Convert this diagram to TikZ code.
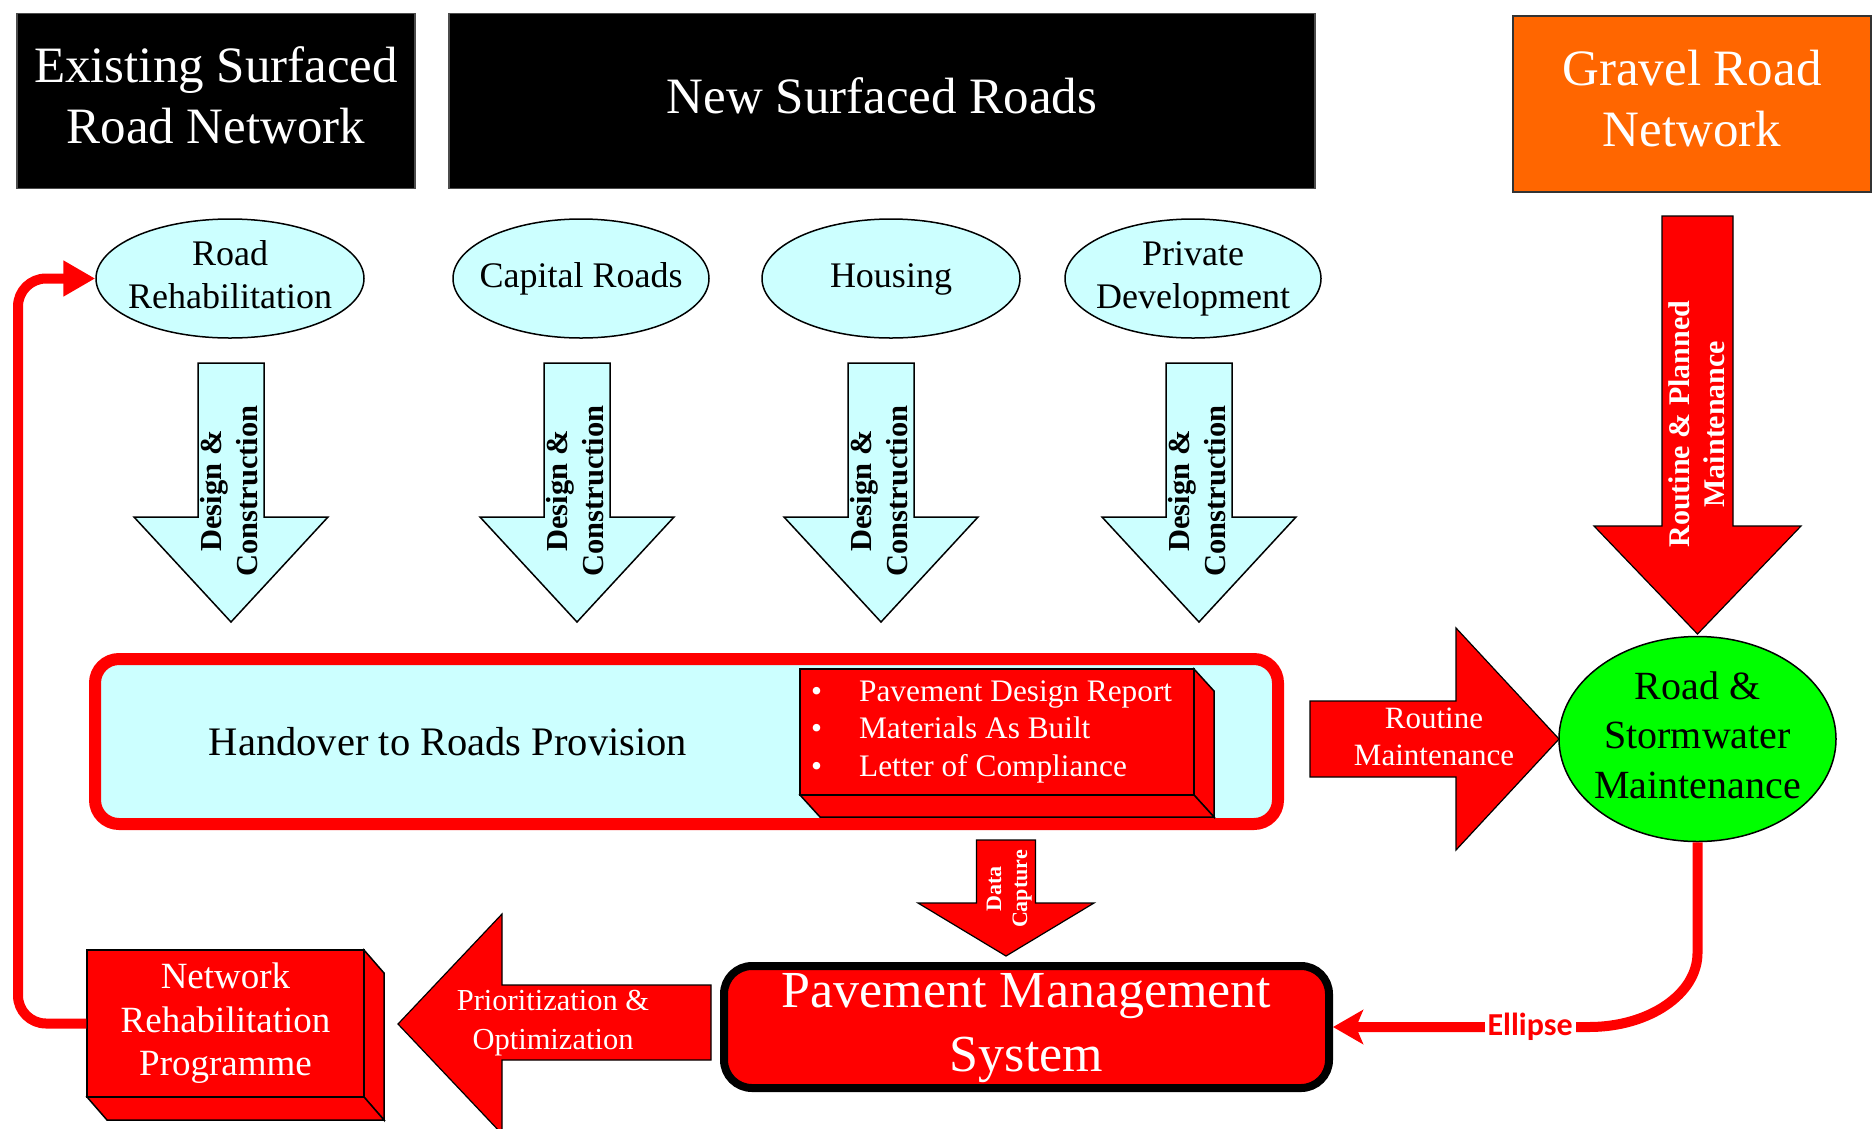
\documentclass[tikz,border=0pt]{standalone}
\usepackage{fontspec}
\setmainfont{Liberation Serif}
\newfontfamily\lblfont{Carlito}
\usetikzlibrary{arrows.meta,shapes.geometric}
\definecolor{lcyan}{HTML}{CCFFFF}
\definecolor{pred}{HTML}{FF0000}
\definecolor{pgreen}{HTML}{00FF00}
\definecolor{porange}{HTML}{FF6600}
\newcommand{\mlt}[1]{\begin{tabular}[t]{@{}c@{}}#1\end{tabular}}
\newcommand{\fsz}[2]{\fontsize{#1}{#2}\selectfont}
\begin{document}
\begin{tikzpicture}[x=1pt,y=-1pt,
  titlebox/.style={rectangle, fill=black, draw=black!70, line width=1.5pt, inner sep=0pt, text=white, font=\fsz{51}{61}},
  srcell/.style={ellipse, fill=lcyan, draw=black, line width=1.5pt, inner xsep=-30pt, inner ysep=-4pt, minimum width=256pt, minimum height=119pt, font=\fsz{36}{43}},
  dcarrow/.style={fill=lcyan, draw=black, line width=1.5pt},
  redarrow/.style={fill=pred, draw=black, line width=1.2pt},
  dctext/.style={rotate=90, inner sep=0pt, font=\bfseries\fsz{30.5}{36}},
  boxface/.style={fill=pred, draw=black, line width=1.5pt},
  redline/.style={draw=pred, line width=10pt},
  whitetext/.style={text=white, inner sep=0pt}
]
\fill[white] (0,0) rectangle (1873,1128);
\useasboundingbox (0,0) rectangle (1873,1128);

% top boxes
\node[titlebox, minimum width=398pt, minimum height=175pt] (esrn) at (216,101) {\mlt{Existing Surfaced\\Road Network}};
\node[titlebox, minimum width=866pt, minimum height=175pt] (nsr) at (882,101) {\mlt{New Surfaced Roads}};
\node[titlebox, fill=porange, draw=black!80, minimum width=358pt, minimum height=176pt] (grn) at (1692,104) {\mlt{Gravel Road\\Network}};

% source ellipses
\node[srcell, minimum width=268pt] (rr) at (230,278.5) {\mlt{Road\\Rehabilitation}};
\node[srcell] (cr) at (581,278.5) {\mlt{Capital Roads}};
\node[srcell, minimum width=258pt] (hs) at (891,278.5) {\mlt{Housing}};
\node[srcell] (pd) at (1193,278.5) {\mlt{Private\\Development}};

% design & construction arrows
\foreach \cx/\nm in {231/a,577/b,881/c,1199/d}{
  \draw[dcarrow] (\cx-33,363) -- (\cx+33,363) -- (\cx+33,517) -- (\cx+97,517) -- (\cx,622) -- (\cx-97,517) -- (\cx-33,517) -- cycle;
  \node[dctext] (dc\nm) at (\cx+1.5,491) {\mlt{Design \&\\Construction}};
}

% gravel maintenance arrow
\draw[redarrow] (1662,216) -- (1733,216) -- (1733,526) -- (1801,526) -- (1697.5,634) -- (1594,526) -- (1662,526) -- cycle;
\node[dctext, text=white, font=\bfseries\fsz{30}{35.5}] (rpm) at (1700,424) {\mlt{Routine \& Planned\\Maintenance}};

% handover box
\node[rectangle, rounded corners=24pt, draw=pred, line width=12pt, fill=lcyan, minimum width=1183pt, minimum height=165pt, inner sep=0pt] (hrp) at (686.5,741.5) {};
\node[inner sep=0pt, font=\fsz{40.5}{46}] (hrpt) at (448,745.8) {\mlt{Handover to Roads Provision}};

% bullet box (3D)
\draw[boxface] (1194,669) -- (1214,691) -- (1214,817) -- (1194,795) -- cycle;
\draw[boxface] (800,795) -- (1194,795) -- (1214,817) -- (820,817) -- cycle;
\node[boxface, rectangle, minimum width=394pt, minimum height=126pt, inner sep=0pt] (pdr) at (997,732) {};
\node[whitetext, anchor=base west, font=\fsz{31.3}{37.5}] (pdrt) at (811,701) {\begin{tabular}[t]{@{}l@{\hspace{37pt}}l@{}}\textbullet & Pavement Design Report\\ \textbullet & Materials As Built\\ \textbullet & Letter of Compliance\end{tabular}};

% routine maintenance arrow
\draw[redarrow] (1310,701) -- (1456,701) -- (1456,628) -- (1559,739) -- (1456,850) -- (1456,777) -- (1310,777) -- cycle;
\node[whitetext, font=\fsz{31}{37}] (rmt) at (1434,740) {\mlt{Routine\\Maintenance}};

% road & stormwater maintenance
\node[ellipse, fill=pgreen, draw=black, line width=1.5pt, inner sep=-12pt, minimum width=277pt, minimum height=205pt, font=\fsz{40}{49.5}] (rsm) at (1697.5,739) {\mlt{Road \&\\Stormwater\\Maintenance}};

% data capture arrow
\draw[redarrow] (976.5,840) -- (1035.5,840) -- (1035.5,903) -- (1094,903) -- (1006,956) -- (918,903) -- (976.5,903) -- cycle;
\node[dctext, text=white, font=\bfseries\fsz{22}{26}] (dct) at (1009,889) {\mlt{Data\\Capture}};

% pavement management system
\node[rectangle, rounded corners=28pt, fill=pred, draw=black, line width=8pt, minimum width=605pt, minimum height=122pt, inner sep=-4pt, text=white, font=\fsz{52}{64}] (pms) at (1026.5,1027) {\mlt{Pavement Management\\System}};

% prioritization arrow
\draw[redarrow] (711,985) -- (711,1060) -- (502,1060) -- (502,1134) -- (398,1024) -- (502,914) -- (502,985) -- cycle;
\node[whitetext, font=\fsz{30.5}{39}] (pot) at (553,1021.7) {\mlt{Prioritization \&\\Optimization}};

% network rehabilitation programme (3D)
\draw[boxface] (364,950) -- (384,973) -- (384,1120) -- (364,1097) -- cycle;
\draw[boxface] (87,1097) -- (364,1097) -- (384,1120) -- (107,1120) -- cycle;
\node[boxface, rectangle, minimum width=277pt, minimum height=147pt, inner sep=0pt, text=white, font=\fsz{37}{43.5}] (nrp) at (225.5,1023.5) {\mlt{Network\\Rehabilitation\\Programme}};

% connectors
\draw[redline, rounded corners=28pt, -{Triangle[length=32pt,width=34pt]}] (nrp.west) -- (18,1023.5) -- (18,278.5) -- (rr.west);
\draw[redline, -{Stealth[length=30pt,width=34pt,inset=7pt]}] (rsm.south) -- (1697.5,953) .. controls (1697.5,994) and (1649,1027) .. (1589,1027) -- node[pos=0.23, fill=white, inner sep=3pt, text=pred, font=\lblfont\bfseries\fsz{32}{38}] (ell) {Ellipse} (pms.east);
\end{tikzpicture}
\end{document}
